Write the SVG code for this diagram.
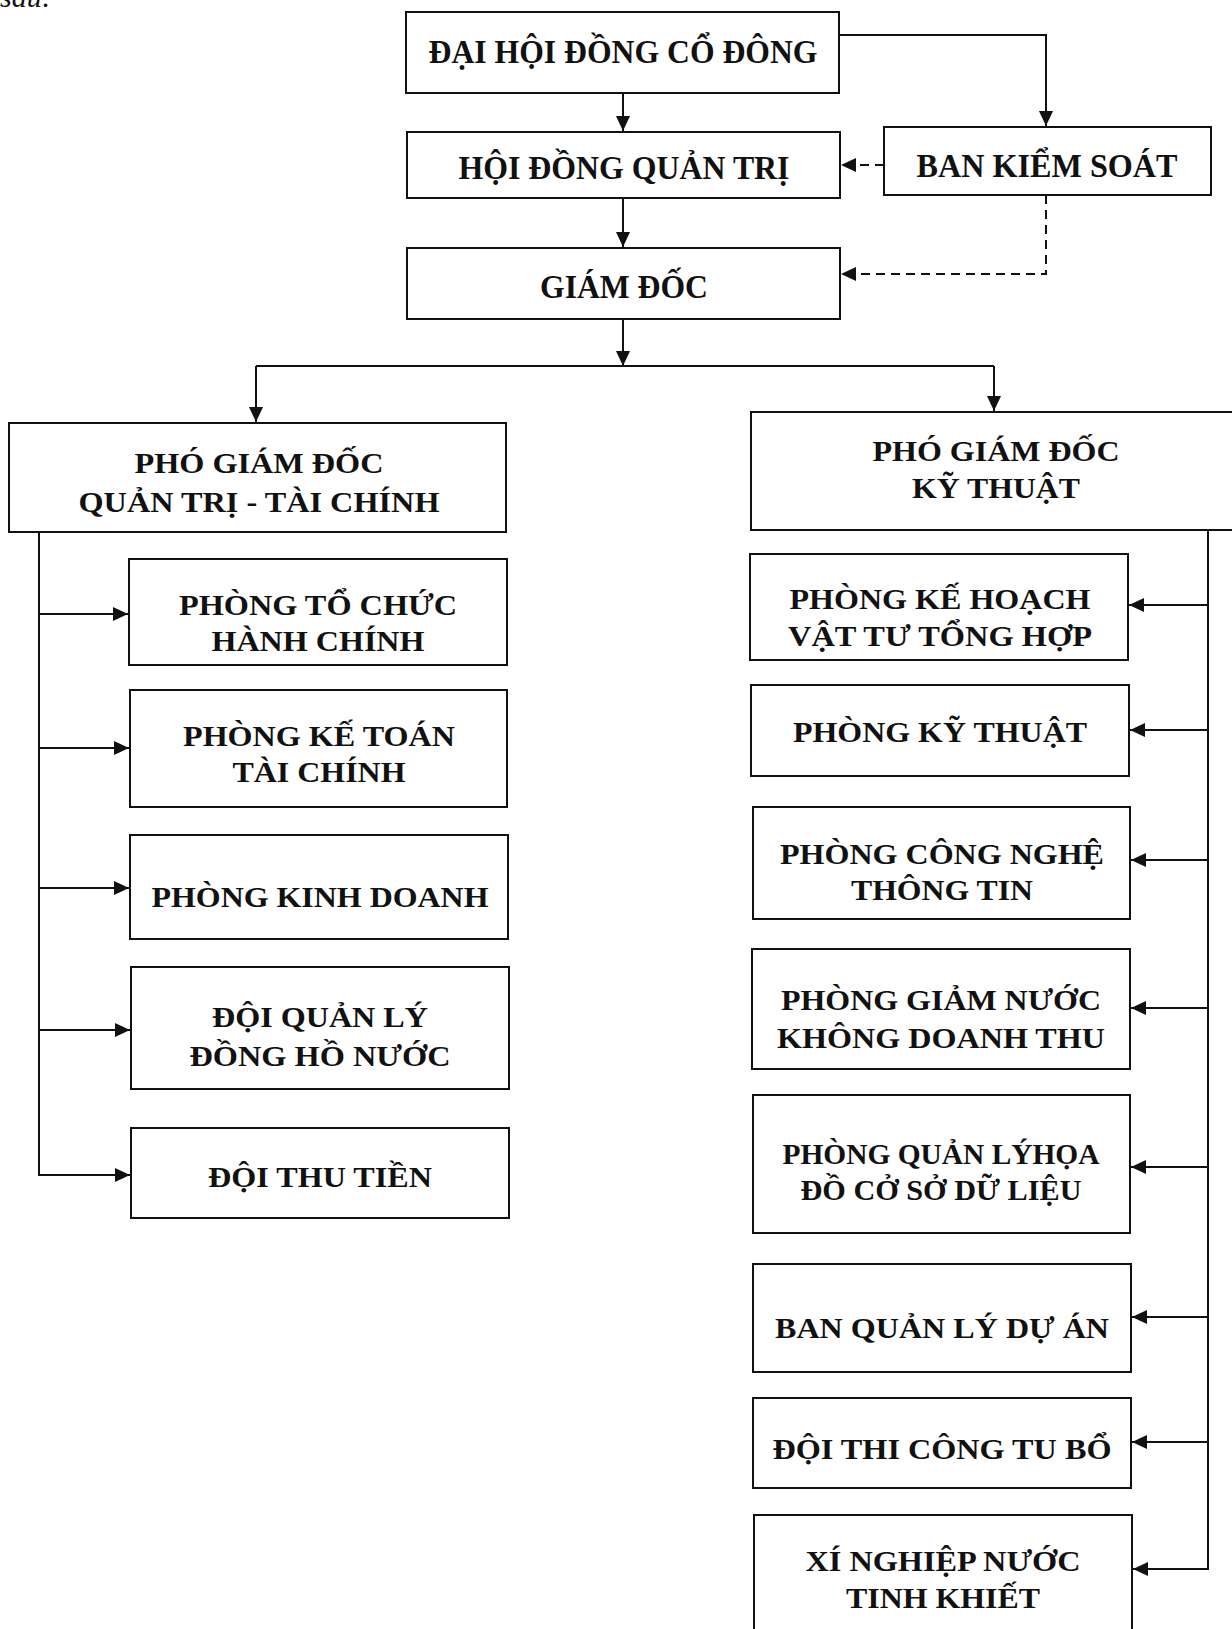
<svg xmlns="http://www.w3.org/2000/svg" width="1232" height="1629" viewBox="0 0 1232 1629">
<style>
  .box { fill: #fff; stroke: #111; stroke-width: 2; }
  .t { font-family: "Liberation Serif", "Times New Roman", serif; font-weight: bold; font-size: 30px; fill: #111; text-anchor: middle; }
  .tt { font-family: "Liberation Serif", "Times New Roman", serif; font-weight: bold; font-size: 34px; fill: #111; text-anchor: middle; }
  .c { fill: none; stroke: #111; stroke-width: 2; }
  .d { fill: none; stroke: #111; stroke-width: 2; stroke-dasharray: 9 6; }
  .note { font-family: "Liberation Serif", "Times New Roman", serif; font-style: italic; font-size: 30px; fill: #111; }
</style>
<defs>
  <marker id="ah" markerUnits="userSpaceOnUse" markerWidth="16" markerHeight="14" refX="15" refY="7" orient="auto">
    <path d="M0,0 L15,7 L0,14 z" fill="#111"/>
  </marker>
</defs>
<rect width="1232" height="1629" fill="#fff"/>
<text class="note" x="0" y="7">sau:</text>

<g id="connectors">
  <path class="c" d="M623,93 V131" marker-end="url(#ah)"/>
  <path class="c" d="M839,35 H1046 V126" marker-end="url(#ah)"/>
  <path class="d" d="M884,165 H841" marker-end="url(#ah)"/>
  <path class="d" d="M1046,195 V274 H841" marker-end="url(#ah)"/>
  <path class="c" d="M623,198 V247" marker-end="url(#ah)"/>
  <path class="c" d="M623,319 V366" marker-end="url(#ah)"/>
  <path class="c" d="M256,366 H994"/>
  <path class="c" d="M256,366 V422" marker-end="url(#ah)"/>
  <path class="c" d="M994,366 V411" marker-end="url(#ah)"/>
  <path class="c" d="M39,532 V1175 H130" marker-end="url(#ah)"/>
  <path class="c" d="M39,614 H128" marker-end="url(#ah)"/>
  <path class="c" d="M39,748 H129" marker-end="url(#ah)"/>
  <path class="c" d="M39,888 H129" marker-end="url(#ah)"/>
  <path class="c" d="M39,1030 H130" marker-end="url(#ah)"/>
  <path class="c" d="M1208,530 V1569 H1133" marker-end="url(#ah)"/>
  <path class="c" d="M1208,605 H1129" marker-end="url(#ah)"/>
  <path class="c" d="M1208,730 H1130" marker-end="url(#ah)"/>
  <path class="c" d="M1208,860 H1131" marker-end="url(#ah)"/>
  <path class="c" d="M1208,1008 H1131" marker-end="url(#ah)"/>
  <path class="c" d="M1208,1167 H1131" marker-end="url(#ah)"/>
  <path class="c" d="M1208,1317 H1132" marker-end="url(#ah)"/>
  <path class="c" d="M1208,1442 H1132" marker-end="url(#ah)"/>
</g>

<g id="dhdcd">
  <rect class="box" x="406" y="12" width="433" height="81"/>
  <text class="tt" x="623" y="63" textLength="389" lengthAdjust="spacingAndGlyphs">ĐẠI HỘI ĐỒNG CỔ ĐÔNG</text>
</g>
<g id="hdqt">
  <rect class="box" x="407" y="132" width="433" height="66"/>
  <text class="tt" x="624" y="179" textLength="331" lengthAdjust="spacingAndGlyphs">HỘI ĐỒNG QUẢN TRỊ</text>
</g>
<g id="bks">
  <rect class="box" x="884" y="127" width="327" height="68"/>
  <text class="tt" x="1047" y="177" textLength="261" lengthAdjust="spacingAndGlyphs">BAN KIỂM SOÁT</text>
</g>
<g id="gd">
  <rect class="box" x="407" y="248" width="433" height="71"/>
  <text class="tt" x="624" y="298" textLength="168" lengthAdjust="spacingAndGlyphs">GIÁM ĐỐC</text>
</g>

<g id="pgd-qttc">
  <rect class="box" x="9" y="423" width="497" height="109"/>
  <text class="t" x="259" y="473" textLength="249" lengthAdjust="spacingAndGlyphs">PHÓ GIÁM ĐỐC</text>
  <text class="t" x="259" y="512" textLength="361" lengthAdjust="spacingAndGlyphs">QUẢN TRỊ - TÀI CHÍNH</text>
</g>
<g id="pgd-kt">
  <rect class="box" x="751" y="412" width="520" height="118"/>
  <text class="t" x="996" y="461" textLength="247" lengthAdjust="spacingAndGlyphs">PHÓ GIÁM ĐỐC</text>
  <text class="t" x="996" y="498" textLength="168" lengthAdjust="spacingAndGlyphs">KỸ THUẬT</text>
</g>

<g id="p-tchc">
  <rect class="box" x="129" y="559" width="378" height="106"/>
  <text class="t" x="318" y="615" textLength="278" lengthAdjust="spacingAndGlyphs">PHÒNG TỔ CHỨC</text>
  <text class="t" x="318" y="651" textLength="213" lengthAdjust="spacingAndGlyphs">HÀNH CHÍNH</text>
</g>
<g id="p-kttc">
  <rect class="box" x="130" y="690" width="377" height="117"/>
  <text class="t" x="319" y="746" textLength="272" lengthAdjust="spacingAndGlyphs">PHÒNG KẾ TOÁN</text>
  <text class="t" x="319" y="782" textLength="173" lengthAdjust="spacingAndGlyphs">TÀI CHÍNH</text>
</g>
<g id="p-kd">
  <rect class="box" x="130" y="835" width="378" height="104"/>
  <text class="t" x="320" y="907" textLength="337" lengthAdjust="spacingAndGlyphs">PHÒNG KINH DOANH</text>
</g>
<g id="d-qldhn">
  <rect class="box" x="131" y="967" width="378" height="122"/>
  <text class="t" x="320" y="1027" textLength="216" lengthAdjust="spacingAndGlyphs">ĐỘI QUẢN LÝ</text>
  <text class="t" x="320" y="1066" textLength="261" lengthAdjust="spacingAndGlyphs">ĐỒNG HỒ NƯỚC</text>
</g>
<g id="d-tt">
  <rect class="box" x="131" y="1128" width="378" height="90"/>
  <text class="t" x="320" y="1187" textLength="224" lengthAdjust="spacingAndGlyphs">ĐỘI THU TIỀN</text>
</g>

<g id="p-khvt">
  <rect class="box" x="750" y="554" width="378" height="106"/>
  <text class="t" x="940" y="609" textLength="301" lengthAdjust="spacingAndGlyphs">PHÒNG KẾ HOẠCH</text>
  <text class="t" x="940" y="646" textLength="304" lengthAdjust="spacingAndGlyphs">VẬT TƯ TỔNG HỢP</text>
</g>
<g id="p-kythuat">
  <rect class="box" x="751" y="685" width="378" height="91"/>
  <text class="t" x="940" y="742" textLength="294" lengthAdjust="spacingAndGlyphs">PHÒNG KỸ THUẬT</text>
</g>
<g id="p-cntt">
  <rect class="box" x="753" y="807" width="377" height="112"/>
  <text class="t" x="942" y="864" textLength="324" lengthAdjust="spacingAndGlyphs">PHÒNG CÔNG NGHỆ</text>
  <text class="t" x="942" y="900" textLength="182" lengthAdjust="spacingAndGlyphs">THÔNG TIN</text>
</g>
<g id="p-gnkdt">
  <rect class="box" x="752" y="949" width="378" height="120"/>
  <text class="t" x="941" y="1010" textLength="320" lengthAdjust="spacingAndGlyphs">PHÒNG GIẢM NƯỚC</text>
  <text class="t" x="941" y="1048" textLength="328" lengthAdjust="spacingAndGlyphs">KHÔNG DOANH THU</text>
</g>
<g id="p-qlhd">
  <rect class="box" x="753" y="1095" width="377" height="138"/>
  <text class="t" x="941" y="1164" textLength="317" lengthAdjust="spacingAndGlyphs">PHÒNG QUẢN LÝHỌA</text>
  <text class="t" x="941" y="1200" textLength="281" lengthAdjust="spacingAndGlyphs">ĐỒ CỞ SỞ DỮ LIỆU</text>
</g>
<g id="b-qlda">
  <rect class="box" x="753" y="1264" width="378" height="108"/>
  <text class="t" x="942" y="1338" textLength="334" lengthAdjust="spacingAndGlyphs">BAN QUẢN LÝ DỰ ÁN</text>
</g>
<g id="d-tctb">
  <rect class="box" x="753" y="1398" width="378" height="90"/>
  <text class="t" x="942" y="1459" textLength="339" lengthAdjust="spacingAndGlyphs">ĐỘI THI CÔNG TU BỔ</text>
</g>
<g id="xn-ntk">
  <rect class="box" x="754" y="1515" width="378" height="130"/>
  <text class="t" x="943" y="1571" textLength="275" lengthAdjust="spacingAndGlyphs">XÍ NGHIỆP NƯỚC</text>
  <text class="t" x="943" y="1608" textLength="194" lengthAdjust="spacingAndGlyphs">TINH KHIẾT</text>
</g>
</svg>
